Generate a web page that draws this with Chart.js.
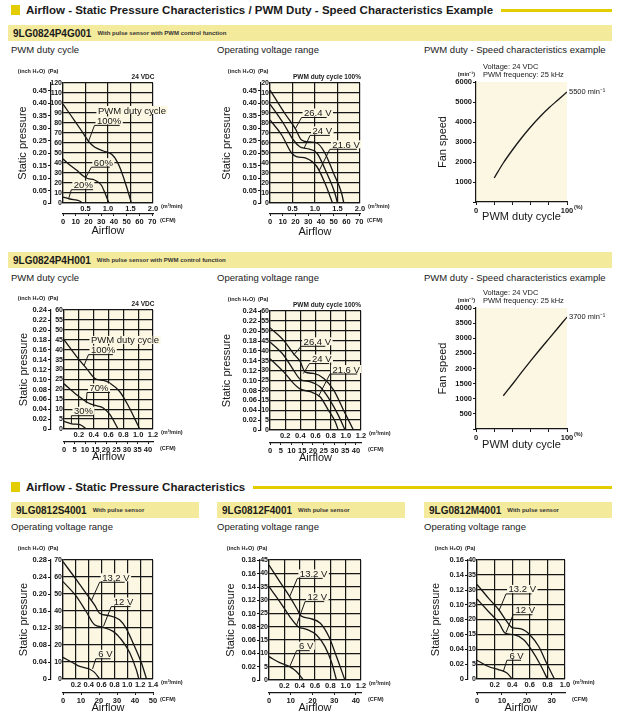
<!DOCTYPE html>
<html><head><meta charset="utf-8">
<script src="https://cdn.jsdelivr.net/npm/chart.js@4.4.1/dist/chart.umd.min.js"></script>
<style>
html,body{margin:0;padding:0;background:#fff}
body{position:relative;width:625px;height:728px;overflow:hidden;font-family:'Liberation Sans',Arial,sans-serif;color:#1a1a1a}
.t{position:absolute;white-space:nowrap;line-height:1;transform:translateY(-50%)}
.t.r{transform:translate(-100%,-50%)}
.t.c{transform:translate(-50%,-50%)}
.head{position:absolute;display:flex;align-items:center;height:14px}
.head i{display:block;width:9px;height:10px;background:#e3cc00;margin-right:6px;flex:none}
.head b{font-family:'Liberation Sans Narrow','Liberation Sans',sans-serif;font-size:11.5px;white-space:nowrap}
.head em{flex:1;height:3px;background:#e3cc00;margin-left:8px}
.bar{position:absolute;height:16px;background:#f4ea9c;display:flex;align-items:center;padding-left:5px;box-sizing:border-box;white-space:nowrap}
.bar b{font-family:'Liberation Sans Narrow','Liberation Sans',sans-serif;font-size:10px}
.bar span{font-size:6px;margin-left:6px;font-weight:bold;color:#333}
.sub{font-size:9.5px}
.u{font-size:5.5px;font-weight:bold;font-family:'Liberation Sans Narrow','Liberation Sans',sans-serif}
.tl{font-size:6.5px;font-weight:bold;font-family:'Liberation Sans Narrow','Liberation Sans',sans-serif}
.sp{font-size:7.5px;font-family:'Liberation Sans Narrow','Liberation Sans',sans-serif}
.box{position:absolute}
</style></head>
<body>
<div class="head" style="left:11px;top:3px;width:601px"><i></i><b>Airflow - Static Pressure Characteristics / PWM Duty - Speed Characteristics Example</b><em></em></div>
<div class="bar" style="left:8px;top:25px;width:604px"><b>9LG0824P4G001</b><span>With pulse sensor with PWM control function</span></div>
<div class="t sub" style="left:11px;top:50px">PWM duty cycle</div>
<div class="t sub" style="left:217px;top:50px">Operating voltage range</div>
<div class="t sub" style="left:424px;top:50px">PWM duty - Speed characteristics example</div>

<div class="bar" style="left:8px;top:252px;width:604px"><b>9LG0824P4H001</b><span>With pulse sensor with PWM control function</span></div>
<div class="t sub" style="left:11px;top:278px">PWM duty cycle</div>
<div class="t sub" style="left:217px;top:278px">Operating voltage range</div>
<div class="t sub" style="left:424px;top:278px">PWM duty - Speed characteristics example</div>

<div class="head" style="left:11px;top:480px;width:601px"><i></i><b>Airflow - Static Pressure Characteristics</b><em></em></div>
<div class="bar" style="left:11px;top:502px;width:188px"><b>9LG0812S4001</b><span>With pulse sensor</span></div>
<div class="bar" style="left:217px;top:502px;width:188px"><b>9LG0812F4001</b><span>With pulse sensor</span></div>
<div class="bar" style="left:424px;top:502px;width:188px"><b>9LG0812M4001</b><span>With pulse sensor</span></div>
<div class="t sub" style="left:11px;top:527px">Operating voltage range</div>
<div class="t sub" style="left:217px;top:527px">Operating voltage range</div>
<div class="t sub" style="left:424px;top:527px">Operating voltage range</div>

<script>
const INK = '#161616', CREAM = '#fcf7e3';
const NARROW = "'Liberation Sans Narrow','Liberation Sans',sans-serif";
const IN_PA = 249.089, CFM_PER = 35.3147;

// ---- 9LG0824P4G001 : PWM duty cycle (m3/min -> Pa)
const g_d100_q = [0, 0.2, 0.4, 0.58, 0.7, 0.9, 1.1, 1.25, 1.4, 1.52];
const g_d100_p = [99, 86, 73, 61, 56, 52, 48, 37, 18, 0];
const g_d60_q = [0, 0.15, 0.3, 0.45, 0.55, 0.7, 0.85, 0.95, 1.02];
const g_d60_p = [44, 38, 33, 27, 24.5, 23, 18, 8, 0];
const g_d20_q = [0, 0.15, 0.37, 0.43];
const g_d20_p = [6, 4, 2, 0];
// ---- 9LG0824P4G001 : operating voltage range
const g_v264_q = [0, 0.33, 0.56, 0.7, 0.89, 1.04, 1.22, 1.41, 1.59, 1.64];
const g_v264_p = [113, 89.5, 74.6, 63, 61, 60, 50, 30, 10, 0];
const g_v24_q = [0, 0.3, 0.52, 0.67, 0.81, 1.04, 1.26, 1.44, 1.5];
const g_v24_p = [99, 79.5, 63, 56, 54.5, 50, 30, 10, 0];
const g_v216_q = [0, 0.26, 0.48, 0.59, 0.81, 1.04, 1.22, 1.39];
const g_v216_p = [83, 68, 50, 46.4, 44.7, 36.5, 20, 0];
// ---- 9LG0824P4G001 : PWM duty (%) -> speed (min-1)
const g_duty = [20, 30, 40, 50, 60, 70, 80, 90, 100];
const g_speed = [1200, 1950, 2600, 3200, 3750, 4250, 4700, 5100, 5500];

// ---- 9LG0824P4H001 : PWM duty cycle
const h_d100_q = [0, 0.17, 0.3, 0.43, 0.53, 0.62, 0.75, 0.86, 0.95, 1.02];
const h_d100_p = [45, 36.5, 30.7, 25.1, 24.5, 23.1, 18.9, 12.2, 5.5, 0];
const h_d70_q = [0, 0.17, 0.33, 0.42, 0.53, 0.62, 0.73];
const h_d70_p = [22.8, 17.3, 13.1, 11.9, 10.6, 7.2, 0];
const h_d30_q = [0, 0.125, 0.215, 0.3];
const h_d30_p = [3.9, 2.5, 2.2, 0];
// ---- 9LG0824P4H001 : operating voltage range
const h_v264_q = [0, 0.18, 0.31, 0.4, 0.46, 0.57, 0.71, 0.84, 0.97, 1.1];
const h_v264_p = [51.6, 45.2, 38.5, 34.4, 29.3, 28.5, 26, 20.1, 10, 0];
const h_v24_q = [0, 0.18, 0.31, 0.4, 0.53, 0.66, 0.79, 0.9, 0.99];
const h_v24_p = [44.4, 37.7, 30.2, 25.5, 24.3, 21.8, 15.1, 7.5, 0];
const h_v216_q = [0, 0.18, 0.31, 0.4, 0.53, 0.66, 0.77, 0.86, 0.9];
const h_v216_p = [36, 29.3, 23.5, 20.6, 19.3, 16.8, 10, 4.2, 0];
// ---- 9LG0824P4H001 : PWM duty -> speed
const h_duty = [30, 40, 50, 60, 70, 80, 90, 100];
const h_speed = [1100, 1480, 1870, 2250, 2620, 2980, 3340, 3700];

// ---- 9LG0812S4001
const s_v132_q = [0, 0.21, 0.36, 0.49, 0.57, 0.73, 0.88, 0.98, 1.09, 1.22, 1.3];
const s_v132_p = [69, 58.3, 50.4, 43.6, 38.7, 37.2, 34.8, 29.9, 21.1, 9.4, 0];
const s_v12_q = [0, 0.21, 0.36, 0.49, 0.62, 0.78, 0.91, 1.04, 1.14, 1.18];
const s_v12_p = [57.3, 48.5, 39.7, 31.9, 30.5, 28, 23.1, 15.3, 5.5, 0];
const s_v6_q = [0, 0.16, 0.26, 0.41, 0.49, 0.57];
const s_v6_p = [12.7, 9.4, 7.4, 5.9, 3.9, 0];
// ---- 9LG0812F4001
const f_v132_q = [0, 0.14, 0.27, 0.36, 0.42, 0.53, 0.67, 0.78, 0.88, 0.99];
const f_v132_p = [43.1, 36.9, 31.3, 26.9, 24, 23.1, 21.3, 16.3, 8.8, 0];
const f_v12_q = [0, 0.14, 0.27, 0.38, 0.49, 0.62, 0.73, 0.82, 0.88];
const f_v12_p = [35, 29.4, 23.8, 20, 19, 16.9, 12.5, 6.3, 0];
const f_v6_q = [0, 0.14, 0.27, 0.36, 0.45];
const f_v6_p = [8.75, 6.5, 5, 3.1, 0];
// ---- 9LG0812M4001
const m_v132_q = [0, 0.13, 0.25, 0.34, 0.4, 0.51, 0.6, 0.7, 0.79, 0.88];
const m_v132_p = [31.8, 27.2, 23.2, 19.3, 17.3, 16.8, 14.9, 11, 5.4, 0];
const m_v12_q = [0, 0.13, 0.25, 0.32, 0.42, 0.53, 0.62, 0.72, 0.8];
const m_v12_p = [26.9, 22.7, 18.8, 15.4, 14.9, 13.2, 9.8, 4.8, 0];
const m_v6_q = [0, 0.13, 0.25, 0.34, 0.4];
const m_v6_p = [6.3, 4.2, 3.1, 2, 0];

// page geometry of each plot (px)
const G1 = {L:63, T:83, R:153, B:203, inch:51, tx:23, cfm:214, air:231};
const G2 = {L:270, T:83, R:360, B:203, inch:261, tx:227, cfm:214, air:232};
const G3 = {L:476, T:82, R:567, B:202, tx:443, xt:217};
const G4 = {L:64, T:310, R:153, B:429, inch:51, tx:24, cfm:442, air:457};
const G5 = {L:270, T:311, R:361, B:430, inch:261, tx:227, cfm:443, air:458};
const G6 = {L:476, T:308, R:567, B:429, tx:443, xt:445};
const G7 = {L:63, T:560, R:153, B:679, inch:51, tx:24, cfm:693, air:708};
const G8 = {L:269, T:560, R:361, B:680, inch:260, tx:231, cfm:693, air:708};
const G9 = {L:477, T:560, R:565, B:679, inch:468, tx:436, cfm:693, air:708};

const TICK = {family: NARROW, size: 7.5, weight: 'bold'};
const TICK_PA = {family: NARROW, size: 7, weight: 'bold'};
const TITLE = {family: "'Liberation Sans', Arial, sans-serif", size: 11};

function txt(s, x, y, cls) {
  const d = document.createElement('div');
  d.className = 't ' + cls;
  d.textContent = s;
  d.style.left = x + 'px'; d.style.top = y + 'px';
  document.body.appendChild(d);
}

const deco = {
  id: 'deco',
  beforeDraw(ch) {
    const a = ch.chartArea, c = ch.ctx;
    c.save(); c.fillStyle = CREAM;
    c.fillRect(a.left, a.top, a.right - a.left, a.bottom - a.top);
    c.restore();
  },
  afterDatasetsDraw(ch, args, o) {
    const c = ch.ctx, X = ch.scales.x, Y = ch.scales.y;
    c.save();
    c.font = "9.5px 'Liberation Sans', Arial, sans-serif";
    c.textBaseline = 'alphabetic';
    (o.notes || []).forEach(n => {
      const x0 = X.getPixelForValue(n.x), y0 = Y.getPixelForValue(n.y);
      const w = c.measureText(n.t).width;
      c.fillStyle = CREAM;
      c.fillRect(x0 + 1, y0 - 9, w + 3, 8);
      c.fillStyle = INK;
      c.fillText(n.t, x0 + 2.5, y0 - 1.5);
      if (n.x2 !== undefined) {
        c.strokeStyle = INK; c.lineWidth = 1;
        c.beginPath();
        c.moveTo(X.getPixelForValue(n.px), Y.getPixelForValue(n.py));
        c.lineTo(x0, y0);
        c.lineTo(X.getPixelForValue(n.x2), y0);
        c.stroke();
      }
    });
    if (o.end) {
      const d = ch.data.datasets[0].data, p = d[d.length - 1];
      c.font = "7.5px " + NARROW;
      c.textBaseline = 'middle';
      c.fillStyle = INK;
      c.fillText(p.y + ' min⁻¹', X.getPixelForValue(p.x) + 2, Y.getPixelForValue(p.y));
    }
    c.restore();
  }
};
Chart.register(deco);

function mount(cl, ct, w, h) {
  const box = document.createElement('div');
  box.className = 'box';
  box.style.cssText = `left:${cl}px;top:${ct}px;width:${w}px;height:${h}px`;
  const cv = document.createElement('canvas');
  box.appendChild(cv);
  document.body.appendChild(box);
  return cv;
}

function series(q, p) {
  return {data: q.map((v, i) => ({x: v, y: p[i]})), xAxisID: 'x', yAxisID: 'y',
    borderColor: INK, borderWidth: 1.3, pointRadius: 0, fill: false, cubicInterpolationMode: 'monotone'};
}

function pq(g, sets, o) {
  const cl = g.tx - 12, ct = g.T - 24, cr = g.R + 55, cb = g.air + 10;
  const cv = mount(cl, ct, cr - cl, cb - ct);
  txt('(inch H₂O)', g.inch - 6, g.T - 11, 'u r');
  txt('(Pa)', g.inch - 3, g.T - 11, 'u');
  txt('(m³/min)', g.R + 8, g.B + 4, 'u');
  txt('(CFM)', g.R + 7, g.cfm + 7, 'u');
  if (o.top) txt(o.top, o.topX, g.T - 6, 'tl c');
  new Chart(cv, {
    type: 'line',
    data: {datasets: sets.map(s => series(s[0], s[1]))},
    options: {
      responsive: true, maintainAspectRatio: false, animation: false, events: [],
      layout: {padding: {left: 0, top: g.T - ct, right: cr - g.R, bottom: 0}},
      plugins: {legend: {display: false}, tooltip: {enabled: false}, deco: {notes: o.notes}},
      scales: {
        x: {type: 'linear', position: 'bottom', weight: 0, min: 0, max: o.xMax,
          ticks: {stepSize: o.xStep, padding: 1, font: TICK, color: INK, autoSkip: false, maxRotation: 0,
            callback: v => v === 0 ? '' : v.toFixed(1)},
          grid: {color: INK, lineWidth: 1.2, drawTicks: false},
          border: {color: INK, width: 1.2},
          afterFit: s => { s.height = g.cfm - g.B; }},
        cfm: {type: 'linear', position: 'bottom', weight: 1, min: 0, max: o.cfmMax,
          ticks: {stepSize: o.cfmStep, padding: 1, font: TICK, color: INK, autoSkip: false, maxRotation: 0, includeBounds: false},
          grid: {drawOnChartArea: false, color: INK, tickLength: 2, lineWidth: 1},
          border: {color: INK, width: 1.2},
          title: {display: true, text: 'Airflow', font: TITLE, color: INK, padding: {top: 0, bottom: cb - g.air - 6.6}},
          afterFit: s => { s.height = cb - g.cfm; }},
        y: {type: 'linear', position: 'left', weight: 0, min: 0, max: o.yMax,
          ticks: {stepSize: o.yStep, padding: 1, font: TICK_PA, color: INK, autoSkip: false},
          grid: {color: INK, lineWidth: 1.2, drawTicks: false},
          border: {color: INK, width: 1.2},
          afterFit: s => { s.width = g.L - g.inch; }},
        inch: {type: 'linear', position: 'left', weight: 1, min: 0, max: o.yMax / IN_PA,
          ticks: {stepSize: o.inStep, padding: 1, font: TICK, color: INK, autoSkip: false, includeBounds: false,
            callback: v => v === 0 ? '0' : v.toFixed(2)},
          grid: {drawOnChartArea: false, color: INK, tickLength: 3, lineWidth: 1},
          border: {color: INK, width: 1.2},
          title: {display: true, text: 'Static pressure', font: TITLE, color: INK, padding: {top: g.tx - cl - 6.6, bottom: 0}},
          afterFit: s => { s.width = g.inch - cl; }}
      }
    }
  });
}

function speed(g, duty, rpm, o) {
  const cl = 428, ct = g.T - 22, cr = 616, cb = g.xt + 10;
  const cv = mount(cl, ct, cr - cl, cb - ct);
  txt('(min⁻¹)', g.L - 1, g.T - 7, 'u r');
  txt('Voltage: 24 VDC', g.L + 7, g.T - 15, 'sp');
  txt('PWM frequency: 25 kHz', g.L + 7, g.T - 7, 'sp');
  txt('(%)', g.R + 7, g.B + 6, 'u');
  new Chart(cv, {
    type: 'line',
    data: {datasets: [series(duty, rpm)]},
    options: {
      responsive: true, maintainAspectRatio: false, animation: false, events: [],
      layout: {padding: {left: 0, top: g.T - ct, right: cr - g.R, bottom: 0}},
      plugins: {legend: {display: false}, tooltip: {enabled: false}, deco: {end: true}},
      scales: {
        x: {type: 'linear', position: 'bottom', min: 0, max: 100,
          ticks: {stepSize: 20, padding: 1, font: TICK, color: INK, autoSkip: false, maxRotation: 0,
            callback: v => (v === 0 || v === 100) ? String(v) : ''},
          grid: {drawOnChartArea: false, color: INK, tickLength: 3, lineWidth: 1},
          border: {color: INK, width: 1.2},
          title: {display: true, text: 'PWM duty cycle', font: TITLE, color: INK, padding: {top: 0, bottom: cb - g.xt - 6.6}},
          afterFit: s => { s.height = cb - g.B; }},
        y: {type: 'linear', position: 'left', min: 0, max: o.yMax,
          ticks: {stepSize: o.yStep, padding: 1, font: TICK, color: INK, autoSkip: false,
            callback: v => v === 0 ? '' : String(v)},
          grid: {drawOnChartArea: false, color: INK, tickLength: 3, lineWidth: 1},
          border: {color: INK, width: 1.2},
          title: {display: true, text: 'Fan speed', font: TITLE, color: INK, padding: {top: g.tx - cl - 6.6, bottom: 0}},
          afterFit: s => { s.width = g.L - cl; }}
      }
    }
  });
}

pq(G1, [[g_d100_q, g_d100_p], [g_d60_q, g_d60_p], [g_d20_q, g_d20_p]], {
  xMax: 2.0, xStep: 0.5, yMax: 120, yStep: 10, inStep: 0.05, cfmMax: 2.0 * CFM_PER, cfmStep: 10,
  top: '24 VDC', topX: 143,
  notes: [
    {t: 'PWM duty cycle', x: 0.72, y: 88},
    {t: '100%', x: 0.70, y: 77.6, x2: 1.26, px: 0.57, py: 62},
    {t: '60%', x: 0.63, y: 35.8, x2: 1.04, px: 0.50, py: 25},
    {t: '20%', x: 0.185, y: 13.3, x2: 0.67, px: 0.13, py: 5}
  ]});
pq(G2, [[g_v264_q, g_v264_p], [g_v24_q, g_v24_p], [g_v216_q, g_v216_p]], {
  xMax: 2.0, xStep: 0.5, yMax: 120, yStep: 10, inStep: 0.05, cfmMax: 2.0 * CFM_PER, cfmStep: 10,
  top: 'PWM duty cycle 100%', topX: 327,
  notes: [
    {t: '26.4 V', x: 0.70, y: 85.5, x2: 1.26, px: 0.56, py: 74},
    {t: '24 V', x: 0.89, y: 67.6, x2: 1.33, px: 0.76, py: 55},
    {t: '21.6 V', x: 1.33, y: 53.7, x2: 1.93, px: 1.10, py: 33}
  ]});
speed(G3, g_duty, g_speed, {yMax: 6000, yStep: 1000});

pq(G4, [[h_d100_q, h_d100_p], [h_d70_q, h_d70_p], [h_d30_q, h_d30_p]], {
  xMax: 1.2, xStep: 0.2, yMax: 60, yStep: 5, inStep: 0.02, cfmMax: 1.2 * CFM_PER, cfmStep: 5,
  top: '24 VDC', topX: 143,
  notes: [
    {t: 'PWM duty cycle', x: 0.33, y: 42.4},
    {t: '100%', x: 0.33, y: 37.5, x2: 0.66, px: 0.27, py: 32},
    {t: '70%', x: 0.31, y: 18.4, x2: 0.62, px: 0.30, py: 13},
    {t: '30%', x: 0.10, y: 6.7, x2: 0.39, px: 0.10, py: 3}
  ]});
pq(G5, [[h_v264_q, h_v264_p], [h_v24_q, h_v24_p], [h_v216_q, h_v216_p]], {
  xMax: 1.2, xStep: 0.2, yMax: 60, yStep: 5, inStep: 0.02, cfmMax: 1.2 * CFM_PER, cfmStep: 5,
  top: 'PWM duty cycle 100%', topX: 327,
  notes: [
    {t: '26.4 V', x: 0.41, y: 42.2, x2: 0.73, px: 0.31, py: 37.7},
    {t: '24 V', x: 0.52, y: 33.5, x2: 0.78, px: 0.44, py: 28.5},
    {t: '21.6 V', x: 0.79, y: 28.2, x2: 1.15, px: 0.64, py: 17}
  ]});
speed(G6, h_duty, h_speed, {yMax: 4000, yStep: 500});

pq(G7, [[s_v132_q, s_v132_p], [s_v12_q, s_v12_p], [s_v6_q, s_v6_p]], {
  xMax: 1.4, xStep: 0.2, yMax: 70, yStep: 10, inStep: 0.04, cfmMax: 50, cfmStep: 10,
  notes: [
    {t: '13.2 V', x: 0.57, y: 56.9, x2: 0.96, px: 0.44, py: 46},
    {t: '12 V', x: 0.75, y: 42.6, x2: 1.05, px: 0.63, py: 31},
    {t: '6 V', x: 0.51, y: 11.9, x2: 0.74, px: 0.46, py: 5.9}
  ]});
pq(G8, [[f_v132_q, f_v132_p], [f_v12_q, f_v12_p], [f_v6_q, f_v6_p]], {
  xMax: 1.2, xStep: 0.2, yMax: 45, yStep: 5, inStep: 0.02, cfmMax: 1.2 * CFM_PER, cfmStep: 10,
  notes: [
    {t: '13.2 V', x: 0.37, y: 38.1, x2: 0.70, px: 0.27, py: 31.3},
    {t: '12 V', x: 0.47, y: 29.4, x2: 0.72, px: 0.36, py: 20.6},
    {t: '6 V', x: 0.36, y: 11, x2: 0.53, px: 0.27, py: 5}
  ]});
pq(G9, [[m_v132_q, m_v132_p], [m_v12_q, m_v12_p], [m_v6_q, m_v6_p]], {
  xMax: 1.0, xStep: 0.2, yMax: 40, yStep: 5, inStep: 0.02, cfmMax: 1.0 * CFM_PER, cfmStep: 10,
  notes: [
    {t: '13.2 V', x: 0.33, y: 28.6, x2: 0.62, px: 0.25, py: 23},
    {t: '12 V', x: 0.41, y: 21.6, x2: 0.63, px: 0.33, py: 15.6},
    {t: '6 V', x: 0.34, y: 6.3, x2: 0.50, px: 0.30, py: 2.6}
  ]});
</script>
</body></html>
